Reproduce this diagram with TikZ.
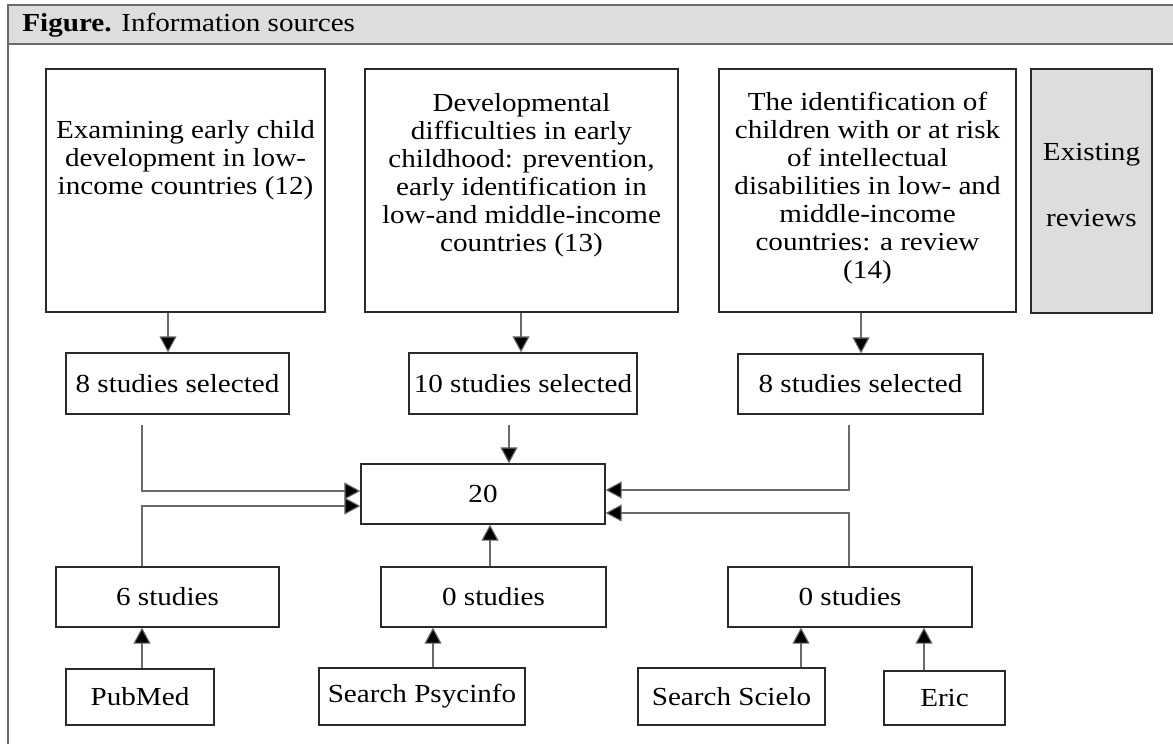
\documentclass[tikz,border=0pt]{standalone}
\usepackage{fontspec}
\setmainfont{Liberation Serif}[FakeStretch=1.12]
\usetikzlibrary{arrows.meta}
\definecolor{hdrgray}{HTML}{DCDDDF}
\definecolor{linegray}{HTML}{6A6A6A}
\definecolor{boxline}{HTML}{2A2A2A}
\begin{document}
\begin{tikzpicture}[x=0.5pt,y=-0.5pt,
  every node/.style={font=\fontsize{13}{14}\selectfont, inner sep=0pt},
  box/.style={draw=boxline, line width=0.6pt, fill=white},
  graybox/.style={draw=boxline, line width=0.6pt, fill=hdrgray},
  txt/.style={align=center},
  conn/.style={draw=linegray, line width=0.55pt},
  arr/.style={conn, -{Triangle[length=8pt,width=8.5pt,fill=black]}}
]
\useasboundingbox (0,0) rectangle (1173,744);
\clip (0,0) rectangle (1173,744);
% frame and header
\path[fill=hdrgray, draw=linegray, line width=0.6pt] (8,5) rectangle (1190,44);
\draw[draw=linegray, line width=0.6pt] (8,44) -- (8,760);
\node[anchor=base west] (hdr) at (22,32) {\textbf{Figure.} Information sources};

% top review boxes
\node[box, minimum width=139.5pt, minimum height=121.5pt] (b1) at (185.5,190.5) {};
\node[txt] (b1t) at (185.5,160) {Examining early child\\development in low-\\income countries (12)};
\node[box, minimum width=156.5pt, minimum height=121.5pt] (b2) at (521.5,190.5) {};
\node[txt] (b2t) at (521.5,175) {Developmental\\difficulties in early\\childhood: prevention,\\early identification in\\low-and middle-income\\countries (13)};
\node[box, minimum width=148.5pt, minimum height=121.5pt] (b3) at (867.5,190.5) {};
\node[txt] (b3t) at (867.5,188.5) {The identification of\\children with or at risk\\of intellectual\\disabilities in low- and\\middle-income\\countries: a review\\(14)};
\node[graybox, minimum width=60.5pt, minimum height=122pt] (b4) at (1091.5,191) {};
\node[txt] (b4t) at (1091.5,185) {Existing\\[19pt]reviews};

% selected studies
\node[box, minimum width=111.5pt, minimum height=30.5pt] (s1) at (177.5,383.5) {8 studies selected};
\node[box, minimum width=114pt, minimum height=30.5pt] (s2) at (523,383.5) {10 studies selected};
\node[box, minimum width=122.5pt, minimum height=30pt] (s3) at (860.5,384) {8 studies selected};

% total
\node[box, minimum width=122pt, minimum height=30pt] (t) at (483,494) {20};

% database results
\node[box, minimum width=111.5pt, minimum height=30pt] (m1) at (167.5,597) {6 studies};
\node[box, minimum width=112.5pt, minimum height=30pt] (m2) at (493.5,597) {0 studies};
\node[box, minimum width=122pt, minimum height=30pt] (m3) at (850,597) {0 studies};

% databases
\node[box, minimum width=74pt, minimum height=28pt] (p1) at (140,697) {PubMed};
\node[box, minimum width=103pt, minimum height=28.5pt] (p2) at (422,696.5) {Search Psycinfo};
\node[box, minimum width=93.5pt, minimum height=28.5pt] (p3) at (731.5,696.5) {Search Scielo};
\node[box, minimum width=60.5pt, minimum height=27pt] (p4) at (944.5,698) {Eric};

% column coordinates
\coordinate (c1) at (168,0);
\coordinate (c2) at (521,0);
\coordinate (c3) at (861,0);
\coordinate (c4) at (142,0);
\coordinate (c5) at (509,0);
\coordinate (c6) at (490,0);
\coordinate (c7) at (849,0);
\coordinate (c8) at (433,0);
\coordinate (c9) at (801,0);
\coordinate (c10) at (924,0);

% connectors
\draw[arr] (b1.south -| c1) -- (s1.north -| c1);
\draw[arr] (b2.south -| c2) -- (s2.north -| c2);
\draw[arr] (b3.south -| c3) -- (s3.north -| c3);

\draw[arr] ([yshift=-5pt]s1.south -| c4) |- ([yshift=1.5pt]t.west);
\draw[arr] (m1.north -| c4) |- ([yshift=-6pt]t.west);
\draw[arr] ([yshift=-5pt]s2.south -| c5) -- (t.north -| c5);
\draw[arr] (m2.north -| c6) -- (t.south -| c6);
\draw[arr] ([yshift=-5pt]s3.south -| c7) |- ([yshift=2pt]t.east);
\draw[arr] (m3.north -| c7) |- ([yshift=-9.5pt]t.east);

\draw[arr] (p1.north -| c4) -- (m1.south -| c4);
\draw[arr] (p2.north -| c8) -- (m2.south -| c8);
\draw[arr] (p3.north -| c9) -- (m3.south -| c9);
\draw[arr] (p4.north -| c10) -- (m3.south -| c10);
\end{tikzpicture}
\end{document}
